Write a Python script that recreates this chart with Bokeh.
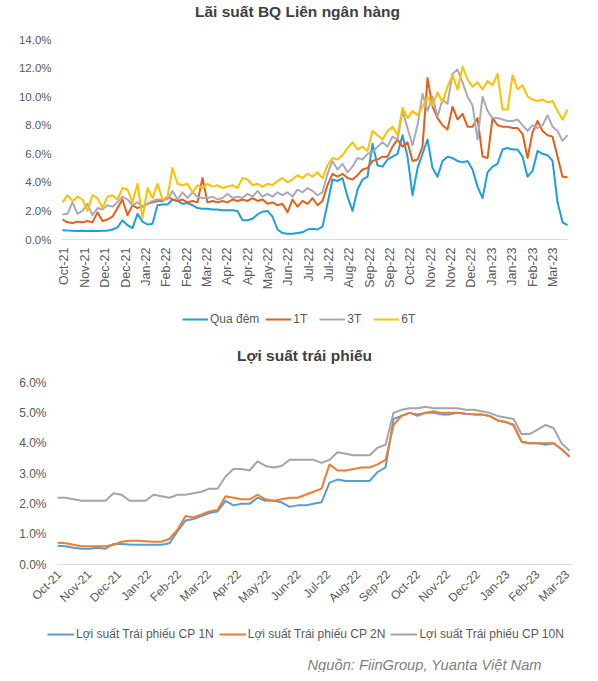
import numpy as np
from bokeh.plotting import figure
from bokeh.models import Range1d, FixedTicker, PrintfTickFormatter, Legend, LegendItem, Label
from bokeh.layouts import column
from bokeh.embed import file_html
from bokeh.resources import INLINE

# ---------------- data: interbank rates (%) ----------------
top_tick_labels = ["Oct-21", "Nov-21", "Dec-21", "Dec-21", "Jan-22", "Feb-22", "Feb-22", "Mar-22",
                   "Apr-22", "Apr-22", "May-22", "Jun-22", "Jul-22", "Jul-22", "Aug-22", "Sep-22",
                   "Sep-22", "Oct-22", "Nov-22", "Nov-22", "Dec-22", "Jan-23", "Jan-23", "Feb-23",
                   "Mar-23"]

qua_dem = [0.65, 0.63, 0.62, 0.60, 0.62, 0.60, 0.62, 0.60, 0.62, 0.62,
           0.70, 0.85, 1.35, 1.00, 0.80, 1.80, 1.25, 1.05, 1.10, 2.40,
           2.45, 2.45, 2.80, 2.70, 2.50, 2.55, 2.40, 2.20, 2.15, 2.15,
           2.10, 2.10, 2.05, 2.05, 2.05, 2.00, 1.35, 1.35, 1.45, 1.75,
           1.95, 2.00, 1.60, 0.70, 0.45, 0.40, 0.40, 0.45, 0.50, 0.70,
           0.75, 0.70, 0.90, 2.50, 4.20, 4.10, 4.30, 3.00, 2.00, 3.50,
           4.20, 4.40, 6.70, 5.20, 5.10, 5.60, 5.80, 6.00, 7.30, 5.80,
           3.10, 5.00, 6.00, 7.00, 5.00, 4.40, 5.50, 5.80, 5.70, 5.50,
           5.40, 5.50, 4.90, 3.70, 2.90, 4.70, 5.10, 5.30, 6.30, 6.40,
           6.30, 6.30, 5.80, 4.40, 4.80, 6.20, 6.00, 5.90, 5.50, 2.60,
           1.20, 1.00]

t1 = [1.40, 1.20, 1.15, 1.25, 1.20, 1.30, 1.20, 1.90, 1.30, 1.40,
      1.60, 2.20, 2.80, 1.70, 2.40, 2.20, 2.30, 2.50, 2.60, 2.70,
      2.70, 3.00, 2.80, 2.70, 2.80, 2.60, 2.70, 2.60, 4.30, 2.60,
      2.70, 2.60, 2.70, 2.60, 2.80, 2.70, 2.80, 2.70, 2.90, 2.70,
      2.80, 2.50, 2.60, 2.40, 2.50, 1.90, 2.80, 2.30, 2.70, 2.50,
      2.90, 2.40, 2.70, 3.80, 4.60, 4.40, 4.60, 4.30, 4.20, 4.50,
      4.90, 5.00, 5.50, 5.60, 5.80, 5.80, 6.50, 7.00, 6.50, 6.80,
      5.50, 5.60, 6.50, 11.30, 9.30, 8.50, 8.00, 7.70, 9.30, 8.40,
      8.80, 7.90, 7.90, 8.50, 5.80, 5.70, 8.50, 8.00, 7.90, 7.90,
      7.80, 7.80, 7.40, 5.70, 7.50, 8.30, 7.60, 7.30, 7.20, 5.80,
      4.40, 4.35]

t3 = [1.75, 1.80, 2.60, 1.80, 2.00, 2.50, 1.70, 2.20, 2.10, 2.40,
      2.30, 2.60, 3.00, 2.80, 2.40, 2.60, 2.30, 2.50, 2.70, 2.80,
      2.80, 2.80, 3.40, 2.80, 3.30, 2.90, 3.30, 3.00, 2.90, 2.90,
      3.00, 2.80, 2.90, 3.20, 2.90, 3.00, 2.90, 3.20, 3.00, 3.40,
      3.00, 3.20, 3.00, 3.30, 3.10, 3.30, 3.00, 3.50, 3.30, 3.60,
      3.40, 3.10, 3.30, 4.60, 5.50, 4.90, 5.30, 4.70, 5.10, 5.70,
      5.60, 6.00, 6.10, 6.50, 6.80, 6.50, 7.20, 7.00, 9.00, 7.80,
      6.60, 8.00, 10.20, 9.00, 10.00, 8.60, 9.80, 9.50, 11.60, 11.90,
      11.00, 10.00, 9.40, 7.00, 10.00, 9.00, 8.50, 8.50, 8.40, 8.30,
      8.30, 8.40, 8.00, 7.60, 8.00, 7.80, 8.00, 8.70, 7.90, 7.60,
      6.90, 7.30]

t6 = [2.60, 3.10, 2.70, 3.00, 2.80, 2.00, 3.10, 2.90, 2.20, 3.00,
      3.10, 2.80, 3.60, 3.50, 2.60, 3.90, 1.50, 3.60, 2.90, 3.90,
      2.80, 3.00, 5.00, 3.90, 3.80, 3.90, 3.30, 3.80, 3.60, 3.90,
      3.70, 3.80, 3.60, 3.70, 3.80, 3.60, 4.30, 4.20, 3.80, 3.90,
      3.70, 3.90, 3.80, 4.10, 4.30, 4.00, 4.20, 4.50, 4.30, 4.60,
      4.40, 4.70, 4.30, 5.20, 5.70, 5.60, 5.90, 6.40, 6.80, 6.30,
      6.50, 6.20, 7.60, 7.30, 7.00, 7.60, 7.90, 7.30, 9.20, 8.50,
      9.00, 8.70, 9.30, 10.00, 9.40, 10.30, 9.60, 10.70, 11.50, 10.50,
      12.10, 11.20, 10.70, 11.00, 10.50, 11.10, 10.80, 11.60, 9.10, 9.10,
      11.50, 10.50, 10.80, 10.00, 9.80, 9.70, 9.80, 9.60, 9.70, 9.00,
      8.40, 9.10]

# ---------------- data: government bond yields (%) ----------------
bot_tick_labels = ["Oct-21", "Nov-21", "Dec-21", "Jan-22", "Feb-22", "Mar-22", "Apr-22", "May-22",
                   "Jun-22", "Jul-22", "Aug-22", "Sep-22", "Oct-22", "Nov-22", "Dec-22", "Jan-23",
                   "Feb-23", "Mar-23"]

cp_1n = [0.62, 0.60, 0.55, 0.52, 0.52, 0.55, 0.52, 0.68, 0.68, 0.66,
         0.65, 0.65, 0.65, 0.65, 0.70, 1.10, 1.45, 1.50, 1.60, 1.70,
         1.75, 2.10, 1.95, 2.00, 2.00, 2.20, 2.10, 2.10, 2.05, 1.90,
         1.95, 1.95, 2.00, 2.05, 2.70, 2.80, 2.75, 2.75, 2.75, 2.75,
         3.05, 3.20, 4.80, 4.90, 5.00, 4.95, 5.00, 5.00, 4.95, 4.95,
         5.00, 4.97, 4.95, 4.95, 4.90, 4.75, 4.70, 4.60, 4.05, 4.00,
         4.00, 3.95, 4.00, 3.80, 3.55]

cp_2n = [0.72, 0.70, 0.65, 0.60, 0.60, 0.60, 0.60, 0.65, 0.75, 0.78,
         0.78, 0.77, 0.75, 0.75, 0.85, 1.15, 1.60, 1.55, 1.65, 1.75,
         1.80, 2.25, 2.20, 2.15, 2.15, 2.30, 2.15, 2.10, 2.15, 2.20,
         2.20, 2.30, 2.40, 2.50, 3.30, 3.10, 3.10, 3.15, 3.20, 3.20,
         3.30, 3.45, 4.60, 4.90, 5.00, 4.90, 5.00, 5.05, 5.00, 5.00,
         5.00, 4.97, 4.95, 4.95, 4.90, 4.75, 4.70, 4.60, 4.05, 4.00,
         4.00, 4.00, 4.00, 3.80, 3.55]

cp_10n = [2.20, 2.20, 2.15, 2.10, 2.10, 2.10, 2.10, 2.35, 2.30, 2.10,
          2.10, 2.10, 2.30, 2.25, 2.20, 2.30, 2.30, 2.35, 2.40, 2.50,
          2.50, 2.90, 3.15, 3.15, 3.10, 3.40, 3.25, 3.20, 3.25, 3.45,
          3.45, 3.45, 3.45, 3.35, 3.45, 3.70, 3.65, 3.60, 3.60, 3.60,
          3.85, 3.95, 5.00, 5.10, 5.15, 5.15, 5.20, 5.15, 5.15, 5.15,
          5.15, 5.10, 5.10, 5.05, 5.00, 4.90, 4.85, 4.80, 4.30, 4.30,
          4.45, 4.60, 4.50, 4.00, 3.75]

FONT = "Liberation Sans"
TXT = "#595959"

x_top = np.linspace(-0.1, 24.72, len(qua_dem))
x_bot = np.linspace(-0.067, 17.07, len(cp_1n))


def style(p, tick_labels, orient, y_ticks, y_size, x_size, y_standoff, x_standoff, x_bounds):
    p.outline_line_color = None
    p.xgrid.visible = False
    p.ygrid.visible = False
    p.background_fill_color = "white"
    p.border_fill_color = "white"
    p.xaxis.fixed_location = 0
    p.xaxis.bounds = x_bounds
    p.xaxis.ticker = FixedTicker(ticks=list(range(len(tick_labels))))
    p.xaxis.major_label_overrides = {i: s for i, s in enumerate(tick_labels)}
    p.xaxis.major_label_orientation = orient
    p.xaxis.axis_line_color = "#D9D9D9"
    p.xaxis.axis_line_width = 1
    p.xaxis.major_tick_line_color = None
    p.xaxis.minor_tick_line_color = None
    p.xaxis.major_tick_out = 0
    p.xaxis.major_tick_in = 0
    p.xaxis.major_label_standoff = x_standoff
    p.xaxis.major_label_text_font = FONT
    p.xaxis.major_label_text_font_size = x_size
    p.xaxis.major_label_text_color = TXT
    p.yaxis.fixed_location = x_bounds[0]
    p.yaxis.ticker = FixedTicker(ticks=y_ticks)
    p.yaxis.formatter = PrintfTickFormatter(format="%.1f%%")
    p.yaxis.axis_line_color = None
    p.yaxis.major_tick_line_color = None
    p.yaxis.minor_tick_line_color = None
    p.yaxis.major_tick_out = 0
    p.yaxis.major_tick_in = 0
    p.yaxis.major_label_standoff = y_standoff
    p.yaxis.major_label_text_font = FONT
    p.yaxis.major_label_text_font_size = y_size
    p.yaxis.major_label_text_color = TXT


# ---------------- top figure (frame fills the whole figure) ----------------
p1 = figure(width=582, height=342, output_backend="svg", toolbar_location=None,
            x_range=Range1d(-3.145, 25.455), y_range=Range1d(-7.21, 16.73),
            min_border_left=0, min_border_right=0, min_border_top=0, min_border_bottom=0)
style(p1, top_tick_labels, np.pi / 2, [0, 2, 4, 6, 8, 10, 12, 14], "11.5px", "12.5px", 10, 8,
      (-0.147, 24.72))

r_qd = p1.line(x_top, qua_dem, line_color="#1E9FDB", line_width=2, line_join="round")
r_1t = p1.line(x_top, t1, line_color="#E2601A", line_width=2, line_join="round")
r_3t = p1.line(x_top, t3, line_color="#A9A9BA", line_width=2, line_join="round")
r_6t = p1.line(x_top, t6, line_color="#FFC000", line_width=2, line_join="round")

leg1 = Legend(items=[LegendItem(label="Qua đêm", renderers=[r_qd]),
                     LegendItem(label="1T", renderers=[r_1t]),
                     LegendItem(label="3T", renderers=[r_3t]),
                     LegendItem(label="6T", renderers=[r_6t])],
              orientation="horizontal", location=(182, 16), glyph_width=26, glyph_height=12,
              label_standoff=2, spacing=6, padding=0, margin=0,
              border_line_color=None, background_fill_alpha=0,
              label_text_font=FONT, label_text_font_size="12px", label_text_color=TXT)
p1.add_layout(leg1, "center")

p1.add_layout(Label(x=11.45, y=15.96, text="Lãi suất BQ Liên ngân hàng", text_align="center",
                    text_baseline="middle", text_font=FONT, text_font_size="15.5px",
                    text_font_style="bold", text_color="#404040"))

# ---------------- bottom figure (frame fills the whole figure) ----------------
p2 = figure(width=582, height=330, output_backend="svg", toolbar_location=None,
            x_range=Range1d(-1.975, 17.503), y_range=Range1d(-3.561, 7.32),
            min_border_left=0, min_border_right=0, min_border_top=0, min_border_bottom=0)
style(p2, bot_tick_labels, np.pi / 4, [0, 1, 2, 3, 4, 5, 6], "12px", "12px", 11, 8,
      (-0.067, 17.17))

r_1n = p2.line(x_bot, cp_1n, line_color="#5B9BD5", line_width=2, line_join="round")
r_2n = p2.line(x_bot, cp_2n, line_color="#ED7D31", line_width=2, line_join="round")
r_10n = p2.line(x_bot, cp_10n, line_color="#A5A5A5", line_width=2, line_join="round")

leg2 = Legend(items=[LegendItem(label="Lợi suất Trái phiếu CP 1N", renderers=[r_1n]),
                     LegendItem(label="Lợi suất Trái phiếu CP 2N", renderers=[r_2n]),
                     LegendItem(label="Lợi suất Trái phiếu CP 10N", renderers=[r_10n])],
              orientation="horizontal", location=(47, 31), glyph_width=27, glyph_height=12,
              label_standoff=2, spacing=5, padding=0, margin=0,
              border_line_color=None, background_fill_alpha=0,
              label_text_font=FONT, label_text_font_size="12px", label_text_color=TXT)
p2.add_layout(leg2, "center")

p2.add_layout(Label(x=8.20, y=6.89, text="Lợi suất trái phiếu", text_align="center",
                    text_baseline="middle", text_font=FONT, text_font_size="15.5px",
                    text_font_style="bold", text_color="#404040"))
p2.add_layout(Label(x=8.30, y=-3.30, text="Nguồn: FiinGroup, Yuanta Việt Nam", text_align="left",
                    text_baseline="middle", text_font=FONT, text_font_size="14.7px",
                    text_font_style="italic", text_color="#7F7F7F"))

layout = column(p1, p2)
open("out.html", "w").write(file_html(layout, INLINE))
